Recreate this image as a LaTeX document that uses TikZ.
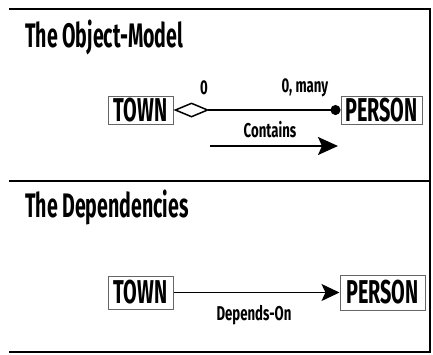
\documentclass[tikz,border=0pt]{standalone}
\usepackage{fontspec}
\setmainfont{Fira Sans}
\newfontfamily\headfont{Fira Sans}[FakeStretch=0.575]
\newfontfamily\boxfont{Fira Sans}[FakeStretch=0.6]
\newfontfamily\labelfont{Fira Sans}[FakeStretch=0.66]
\usetikzlibrary{arrows.meta}

\begin{document}
\begin{tikzpicture}[x=1pt,y=-1pt,
  frame/.style={line width=2pt,line cap=rect},
  heading/.style={anchor=base west,inner sep=0pt,
    font=\headfont\bfseries\fontsize{34}{34}\selectfont},
  entity/.style={draw=black!60,line width=1pt,inner sep=0pt,
    font=\boxfont\bfseries\fontsize{33}{33}\selectfont},
  smalllabel/.style={inner sep=0pt,font=\labelfont\bfseries\fontsize{20}{20}\selectfont},
  link/.style={line width=1.5pt},
  ]
\useasboundingbox (0,0) rectangle (433,354);

% outer frame and section divider
\draw[frame] (10,9) -- (429.5,9) -- (429.5,352) -- (10,352);
\draw[frame] (10,181) -- (429.5,181);

% ---------- upper section: object model ----------
\node[heading] (title1) at (25,47) {The Object-Model};

\node[entity,minimum width=65pt,minimum height=28pt] (town1) at (140.5,110) {TOWN};
\node[entity,minimum width=81pt,minimum height=28pt] (person1) at (381.5,110) {PERSON};

\draw[link,{Diamond[open,length=36pt,width=15pt]}-{Circle[length=10pt]}]
  (town1.east) -- (person1.west);

\node[smalllabel] (mult0) at (204,88) {0};
\node[smalllabel] (multmany) at (305,88) {0, many};

\coordinate (dirA) at (210,146);
\coordinate (dirB) at (338,146);
\draw[line width=2pt,-{Stealth[length=20pt,width=18pt,inset=4pt]}] (dirA) -- (dirB);
\node[smalllabel] (contains) at (270,130) {Contains};

% ---------- lower section: dependencies ----------
\node[heading] (title2) at (25,217) {The Dependencies};

\node[entity,minimum width=65pt,minimum height=33pt] (town2) at (140.5,292.5) {TOWN};
\node[entity,minimum width=85pt,minimum height=35pt] (person2) at (382.5,292.5) {PERSON};

\draw[link,-{Stealth[length=18pt,width=17pt,inset=4pt]}]
  (town2.east) -- (person2.west);
\node[smalllabel] (dependson) at (254,315) {Depends-On};
\end{tikzpicture}
\end{document}
